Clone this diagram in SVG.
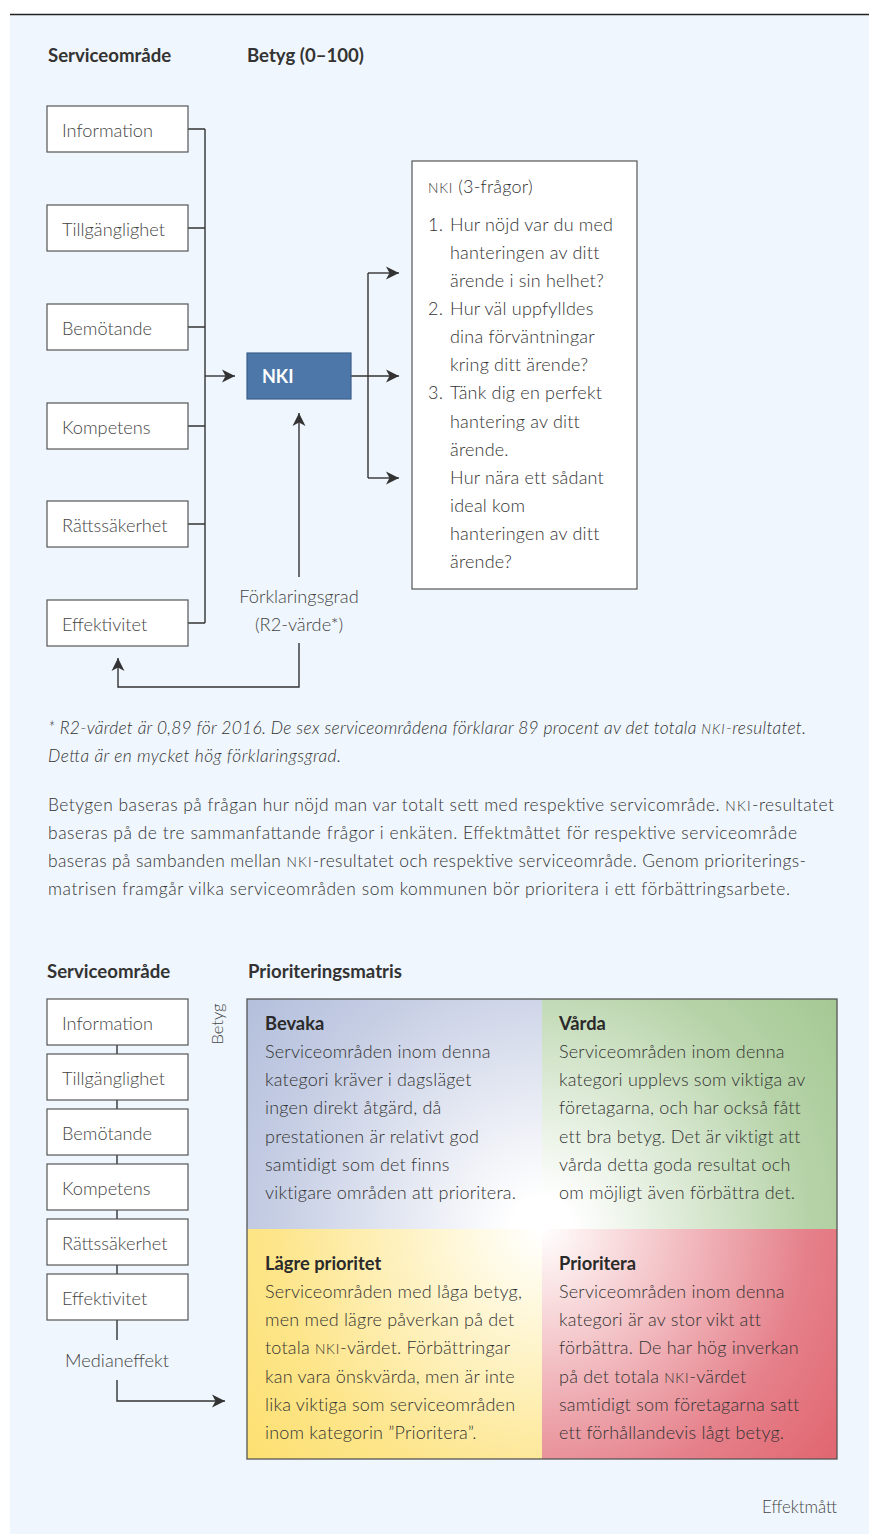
<svg xmlns="http://www.w3.org/2000/svg" width="869" height="1534" viewBox="0 0 869 1534">
<style>
text{font-family:Lato,"Open Sans","Liberation Sans",sans-serif;fill:#4a4a4a}
.h{font-weight:bold;font-size:18.6px;fill:#333}
.lbl{font-size:18.2px;fill:#444;font-weight:300}
.box{fill:#fff;stroke:#555;stroke-width:1.2}
.ln{fill:none;stroke:#333;stroke-width:1.4}
.q{font-size:18px;fill:#333;font-weight:300;letter-spacing:0.2px}
.p{font-size:17.4px;fill:#333;font-weight:300}
.it{font-style:italic}
.qt{font-size:18.3px;font-weight:bold;fill:#2a2a2a}
.sc{font-size:13.8px;letter-spacing:0.8px}
</style>
<defs>
<marker id="ah" markerUnits="userSpaceOnUse" markerWidth="14" markerHeight="14" refX="13" refY="7" orient="auto">
<path d="M0,0.5 L13,7 L0,13.5 L3.5,7 Z" fill="#333"/>
</marker>
<radialGradient id="gB" gradientUnits="userSpaceOnUse" cx="542" cy="1229" r="380">
<stop offset="0" stop-color="#ffffff"/><stop offset="0.08" stop-color="#ffffff"/><stop offset="0.7" stop-color="#c6cee4"/><stop offset="1" stop-color="#b2bedb"/>
</radialGradient>
<radialGradient id="gG" gradientUnits="userSpaceOnUse" cx="542" cy="1229" r="380">
<stop offset="0" stop-color="#ffffff"/><stop offset="0.08" stop-color="#ffffff"/><stop offset="0.7" stop-color="#b6d3a8"/><stop offset="1" stop-color="#a3c792"/>
</radialGradient>
<radialGradient id="gY" gradientUnits="userSpaceOnUse" cx="542" cy="1229" r="380">
<stop offset="0" stop-color="#ffffff"/><stop offset="0.08" stop-color="#fffdf2"/><stop offset="0.7" stop-color="#fde58a"/><stop offset="1" stop-color="#fde070"/>
</radialGradient>
<radialGradient id="gR" gradientUnits="userSpaceOnUse" cx="542" cy="1229" r="380">
<stop offset="0" stop-color="#ffffff"/><stop offset="0.08" stop-color="#fdf1f1"/><stop offset="0.7" stop-color="#e5808a"/><stop offset="1" stop-color="#e0646e"/>
</radialGradient>
</defs>

<rect x="0" y="0" width="869" height="1534" fill="#ffffff"/>
<rect x="10" y="15" width="859" height="1519" fill="#eff6fd"/>
<line x1="10" y1="14.5" x2="869" y2="14.5" stroke="#222" stroke-width="1.3"/>

<text class="h" x="48" y="62">Serviceområde</text>
<text class="h" x="247" y="62">Betyg (0–100)</text>

<g id="connectors">
<path class="ln" d="M188,129 H205 M188,228 H205 M188,327 H205 M188,426 H205 M188,524 H205 M188,623 H205 M205,129 V623"/>
<path class="ln" d="M205,376 H235" marker-end="url(#ah)"/>
<path class="ln" d="M351,376 H399" marker-end="url(#ah)"/>
<path class="ln" d="M368,273 V478"/>
<path class="ln" d="M368,273 H399" marker-end="url(#ah)"/>
<path class="ln" d="M368,478 H399" marker-end="url(#ah)"/>
<path class="ln" d="M299,577 V413" marker-end="url(#ah)"/>
<path class="ln" d="M299,643 V687 H118 V658" marker-end="url(#ah)"/>
<path class="ln" d="M117,1045 V1054 M117,1100 V1109 M117,1155 V1164 M117,1210 V1219 M117,1265 V1274 M117,1320 V1340"/>
<path class="ln" d="M117,1380 V1401 H225" marker-end="url(#ah)"/>
</g>

<g id="n-information"><rect class="box" x="47" y="106" width="141" height="46"/><text class="lbl" x="62" y="137">Information</text></g>
<g id="n-tillganglighet"><rect class="box" x="47" y="205" width="141" height="46"/><text class="lbl" x="62" y="236">Tillgänglighet</text></g>
<g id="n-bemotande"><rect class="box" x="47" y="304" width="141" height="46"/><text class="lbl" x="62" y="335">Bemötande</text></g>
<g id="n-kompetens"><rect class="box" x="47" y="403" width="141" height="46"/><text class="lbl" x="62" y="434">Kompetens</text></g>
<g id="n-rattssakerhet"><rect class="box" x="47" y="501" width="141" height="46"/><text class="lbl" x="62" y="532">Rättssäkerhet</text></g>
<g id="n-effektivitet"><rect class="box" x="47" y="600" width="141" height="46"/><text class="lbl" x="62" y="631">Effektivitet</text></g>

<g id="n-nki"><rect x="247" y="353" width="104" height="46" fill="#4d77a8" stroke="#3b5f8a" stroke-width="1.2"/><text x="262" y="383" font-size="18" font-weight="bold" style="fill:#fff">NKI</text></g>

<g id="n-forklaringsgrad">
<text class="lbl" x="299" y="603" text-anchor="middle">Förklaringsgrad</text>
<text class="lbl" x="299" y="631" text-anchor="middle">(R2-värde*)</text>
</g>

<g id="n-nki-fragor">
<rect class="box" x="412" y="161" width="225" height="428"/>
<text class="q" x="428" y="193" style="font-size:18px"><tspan class="sc">NKI</tspan> (3-frågor)</text>
<text class="q" x="428" y="231">1.</text>
<text class="q" x="450" y="231">Hur nöjd var du med</text>
<text class="q" x="450" y="259">hanteringen av ditt</text>
<text class="q" x="450" y="287">ärende i sin helhet?</text>
<text class="q" x="428" y="315">2.</text>
<text class="q" x="450" y="315">Hur väl uppfylldes</text>
<text class="q" x="450" y="343">dina förväntningar</text>
<text class="q" x="450" y="371">kring ditt ärende?</text>
<text class="q" x="428" y="399">3.</text>
<text class="q" x="450" y="399">Tänk dig en perfekt</text>
<text class="q" x="450" y="428">hantering av ditt</text>
<text class="q" x="450" y="456">ärende.</text>
<text class="q" x="450" y="484">Hur nära ett sådant</text>
<text class="q" x="450" y="512">ideal kom</text>
<text class="q" x="450" y="540">hanteringen av ditt</text>
<text class="q" x="450" y="568">ärende?</text>
</g>

<g id="footnote">
<text class="p it" x="48" y="734" textLength="758" lengthAdjust="spacing">* R2-värdet är 0,89 för 2016. De sex serviceområdena förklarar 89 procent av det totala <tspan class="sc">NKI</tspan>-resultatet.</text>
<text class="p it" x="48" y="762" textLength="293" lengthAdjust="spacing">Detta är en mycket hög förklaringsgrad.</text>
</g>
<g id="paragraph">
<text class="p" x="48" y="811" textLength="786" lengthAdjust="spacing">Betygen baseras på frågan hur nöjd man var totalt sett med respektive servicområde. <tspan class="sc">NKI</tspan>-resultatet</text>
<text class="p" x="48" y="839" textLength="749" lengthAdjust="spacing">baseras på de tre sammanfattande frågor i enkäten. Effektmåttet för respektive serviceområde</text>
<text class="p" x="48" y="867" textLength="758" lengthAdjust="spacing">baseras på sambanden mellan <tspan class="sc">NKI</tspan>-resultatet och respektive serviceområde. Genom prioriterings-</text>
<text class="p" x="48" y="895" textLength="742" lengthAdjust="spacing">matrisen framgår vilka serviceområden som kommunen bör prioritera i ett förbättringsarbete.</text>
</g>

<text class="h" x="47" y="978">Serviceområde</text>
<text class="h" x="248" y="978">Prioriteringsmatris</text>

<g id="m-information"><rect class="box" x="47" y="999" width="141" height="46"/><text class="lbl" x="62" y="1030">Information</text></g>
<g id="m-tillganglighet"><rect class="box" x="47" y="1054" width="141" height="46"/><text class="lbl" x="62" y="1085">Tillgänglighet</text></g>
<g id="m-bemotande"><rect class="box" x="47" y="1109" width="141" height="46"/><text class="lbl" x="62" y="1140">Bemötande</text></g>
<g id="m-kompetens"><rect class="box" x="47" y="1164" width="141" height="46"/><text class="lbl" x="62" y="1195">Kompetens</text></g>
<g id="m-rattssakerhet"><rect class="box" x="47" y="1219" width="141" height="46"/><text class="lbl" x="62" y="1250">Rättssäkerhet</text></g>
<g id="m-effektivitet"><rect class="box" x="47" y="1274" width="141" height="46"/><text class="lbl" x="62" y="1305">Effektivitet</text></g>
<g id="m-medianeffekt"><text class="lbl" x="117" y="1367" text-anchor="middle">Medianeffekt</text></g>

<g id="axis-betyg"><text class="lbl" transform="translate(223,1024) rotate(-90)" text-anchor="middle" style="font-size:16.5px">Betyg</text></g>
<g id="axis-effektmatt"><text class="lbl" x="837" y="1513" text-anchor="end" style="font-size:16.8px">Effektmått</text></g>

<g id="q-bevaka">
<rect x="247" y="999" width="295" height="230" fill="url(#gB)"/>
<text class="qt" x="265" y="1030">Bevaka</text>
<text class="q" x="265" y="1058">Serviceområden inom denna</text>
<text class="q" x="265" y="1086">kategori kräver i dagsläget</text>
<text class="q" x="265" y="1114">ingen direkt åtgärd, då</text>
<text class="q" x="265" y="1143">prestationen är relativt god</text>
<text class="q" x="265" y="1171">samtidigt som det finns</text>
<text class="q" x="265" y="1199">viktigare områden att prioritera.</text>
</g>
<g id="q-varda">
<rect x="542" y="999" width="295" height="230" fill="url(#gG)"/>
<text class="qt" x="559" y="1030">Vårda</text>
<text class="q" x="559" y="1058">Serviceområden inom denna</text>
<text class="q" x="559" y="1086">kategori upplevs som viktiga av</text>
<text class="q" x="559" y="1114">företagarna, och har också fått</text>
<text class="q" x="559" y="1143">ett bra betyg. Det är viktigt att</text>
<text class="q" x="559" y="1171">vårda detta goda resultat och</text>
<text class="q" x="559" y="1199">om möjligt även förbättra det.</text>
</g>
<g id="q-lagre">
<rect x="247" y="1229" width="295" height="230" fill="url(#gY)"/>
<text class="qt" x="265" y="1270">Lägre prioritet</text>
<text class="q" x="265" y="1298">Serviceområden med låga betyg,</text>
<text class="q" x="265" y="1326">men med lägre påverkan på det</text>
<text class="q" x="265" y="1354">totala <tspan class="sc">NKI</tspan>-värdet. Förbättringar</text>
<text class="q" x="265" y="1383">kan vara önskvärda, men är inte</text>
<text class="q" x="265" y="1411">lika viktiga som serviceområden</text>
<text class="q" x="265" y="1439">inom kategorin ”Prioritera”.</text>
</g>
<g id="q-prioritera">
<rect x="542" y="1229" width="295" height="230" fill="url(#gR)"/>
<text class="qt" x="559" y="1270">Prioritera</text>
<text class="q" x="559" y="1298">Serviceområden inom denna</text>
<text class="q" x="559" y="1326">kategori är av stor vikt att</text>
<text class="q" x="559" y="1354">förbättra. De har hög inverkan</text>
<text class="q" x="559" y="1383">på det totala <tspan class="sc">NKI</tspan>-värdet</text>
<text class="q" x="559" y="1411">samtidigt som företagarna satt</text>
<text class="q" x="559" y="1439">ett förhållandevis lågt betyg.</text>
</g>
<rect id="matrix-frame" x="247" y="999" width="590" height="460" fill="none" stroke="#555" stroke-width="1.3"/>
</svg>
